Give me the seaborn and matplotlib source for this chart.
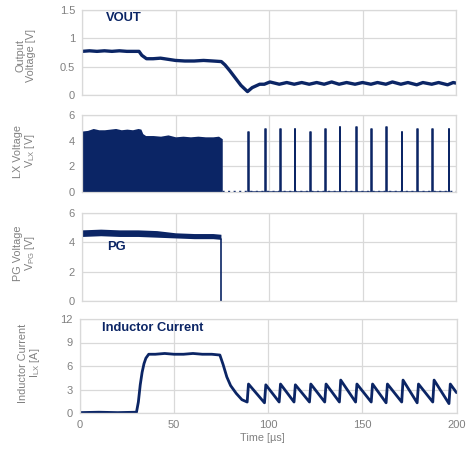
import matplotlib
matplotlib.use("Agg")
import matplotlib.pyplot as plt
import seaborn as sns

# ---------------- data ----------------
time_ticks = [0, 50, 100, 150, 200]

# switching events after the transient (µs)
sw_times = [88.8, 98.0, 105.8, 113.7, 121.9, 130.0, 137.8, 146.4, 154.7,
            162.6, 170.9, 179.1, 187.4, 196.0]

# Output voltage [V]
vout_t = [0, 4, 8, 12, 16, 20, 24, 28, 30.5, 32, 34.5, 38, 42, 46, 50, 55, 60, 65,
          70, 74.5, 76.5, 79, 82, 85, 88.5, 91, 95,
          97.5, 100.5, 105.5, 109.5, 113.5, 117.5, 121.5, 125.5, 129.5, 133.5,
          137.5, 141.5, 146, 150, 154.5, 158, 162.5, 166, 170.5, 174.3, 179,
          182.3, 187, 190.7, 195.5, 198.5, 200]
vout_v = [0.77, 0.78, 0.77, 0.78, 0.77, 0.78, 0.77, 0.77, 0.77, 0.70, 0.64, 0.64,
          0.65, 0.63, 0.61, 0.60, 0.60, 0.61, 0.60, 0.59, 0.53, 0.43, 0.30, 0.17,
          0.06, 0.13, 0.19,
          0.19, 0.23, 0.19, 0.22, 0.19, 0.22, 0.19, 0.22, 0.19, 0.23,
          0.19, 0.22, 0.19, 0.22, 0.19, 0.22, 0.19, 0.23, 0.19, 0.22, 0.18,
          0.22, 0.19, 0.22, 0.18, 0.22, 0.21]

# LX voltage [V]: envelope of the dense switching block, then isolated pulses
lx_block_t = [0, 3, 6, 9, 12, 15, 18, 21, 24, 27, 30, 31.5, 32.5, 34, 38, 42,
              46, 50, 54, 58, 62, 66, 70, 73, 75]
lx_block_v = [4.75, 4.8, 4.95, 4.85, 4.85, 4.9, 4.95, 4.85, 4.9, 4.85, 4.95,
              4.9, 4.55, 4.4, 4.4, 4.35, 4.45, 4.3, 4.35, 4.3, 4.35, 4.3, 4.3,
              4.35, 4.15]
lx_spike_v = [4.65, 4.88, 4.88, 4.88, 4.65, 4.88, 5.09, 5.09, 4.88, 5.09,
              4.65, 4.88, 4.88, 4.88]
lx_idle_v = 0.05

# PG voltage [V]: noisy band, drops at ~74 µs
pg_t = [0, 10, 20, 30, 40, 50, 60, 70, 74.3]
pg_upper = [4.85, 4.9, 4.85, 4.85, 4.8, 4.65, 4.6, 4.6, 4.55]
pg_lower = [4.4, 4.45, 4.4, 4.4, 4.35, 4.3, 4.25, 4.25, 4.2]
pg_drop_t = 74.3

# Inductor current [A]
ilx_t = [0, 10, 20, 30, 31, 32, 33, 34, 35, 36.5, 40, 45, 50, 55, 60, 65,
         70, 74.3, 76, 78, 80, 83, 86]
ilx_v = [0.05, 0.1, 0.05, 0.1, 1.4, 3.6, 5.2, 6.3, 7.0, 7.5, 7.5, 7.6, 7.5,
         7.5, 7.6, 7.5, 7.5, 7.4, 6.2, 4.6, 3.5, 2.5, 1.7]
ilx_trough = [1.4, 1.3, 1.4, 1.4, 1.4, 1.4, 1.4, 1.4, 1.4, 1.3, 1.4, 1.3, 1.4, 1.2]
ilx_peak = [3.7, 3.6, 3.7, 3.6, 3.7, 3.7, 4.2, 3.7, 3.7, 3.7, 4.2, 3.7, 4.2, 3.7]
ilx_end = 2.6

# ---------------- styling ----------------
sns.set_theme(style="white")
plt.rcParams["font.family"] = ["Liberation Sans", "DejaVu Sans"]
plt.rcParams["mathtext.fontset"] = "custom"
plt.rcParams["mathtext.rm"] = "Liberation Sans"
plt.rcParams["mathtext.it"] = "Liberation Sans"
plt.rcParams["mathtext.default"] = "regular"

NAVY = "#0b2565"
GRAY = "#808080"
GRID = "#d9d9d9"
W, H = 467, 450

fig = plt.figure(figsize=(W / 100, H / 100), dpi=100)


def add_ax(l, t, r, b):
    return fig.add_axes([l / W, 1 - b / H, (r - l) / W, (b - t) / H])


def style(ax, ylim, yticks, ylabels, show_x):
    ax.set_xlim(0, 200)
    ax.set_ylim(*ylim)
    ax.set_yticks(yticks)
    ax.set_yticklabels(ylabels)
    ax.set_xticks(time_ticks)
    if show_x:
        ax.set_xticklabels([str(t) for t in time_ticks])
    else:
        ax.set_xticklabels([])
    ax.grid(True, color=GRID, lw=0.9)
    ax.set_axisbelow(True)
    for s in ax.spines.values():
        s.set_color(GRID)
        s.set_linewidth(0.9)
    ax.tick_params(length=0, labelsize=8, colors=GRAY, pad=5)
    ax.set_xlabel("")
    ax.set_ylabel("")


# Panel 1: VOUT
ax1 = add_ax(82, 10, 456, 95)
sns.lineplot(x=vout_t, y=vout_v, ax=ax1, color=NAVY, lw=2.4,
             estimator=None, sort=False)
style(ax1, (0, 1.5), [0, 0.5, 1, 1.5], ["0", "0.5", "1", "1.5"], False)
ax1.text(0.064, 0.905, "VOUT", transform=ax1.transAxes, color=NAVY,
         fontsize=9.3, fontweight="bold", va="center", ha="left")

# Panel 2: LX
ax2 = add_ax(82, 115, 456, 192)
ax2.fill_between(lx_block_t, 0, lx_block_v, color=NAVY, lw=0)
sns.lineplot(x=[75, 200], y=[lx_idle_v, lx_idle_v], ax=ax2, color=NAVY,
             lw=1.0, estimator=None, sort=False, dashes=False,
             linestyle=(0, (1.5, 2.5)))
spk_x, spk_y = [], []
for s, v in zip(sw_times, lx_spike_v):
    spk_x += [s, s, s + 0.4, s + 0.4]
    spk_y += [0, v, v, 0]
sns.lineplot(x=spk_x, y=spk_y, ax=ax2, color=NAVY,
             lw=1.1, estimator=None, sort=False)
style(ax2, (0, 6), [0, 2, 4, 6], ["0", "2", "4", "6"], False)

# Panel 3: PG
ax3 = add_ax(82, 213, 456, 301)
ax3.fill_between(pg_t, pg_lower, pg_upper, color=NAVY, lw=0)
sns.lineplot(x=[pg_drop_t, pg_drop_t], y=[pg_lower[-1], 0], ax=ax3,
             color=NAVY, lw=1.2, estimator=None, sort=False)
style(ax3, (0, 6), [0, 2, 4, 6], ["0", "2", "4", "6"], False)
ax3.text(0.067, 0.617, "PG", transform=ax3.transAxes, color=NAVY,
         fontsize=9.3, fontweight="bold", va="center", ha="left")

# Panel 4: inductor current
ax4 = add_ax(80, 319, 456.5, 413)
cur_t = list(ilx_t)
cur_v = list(ilx_v)
for s, lo, hi in zip(sw_times, ilx_trough, ilx_peak):
    cur_t += [s, s + 0.7]
    cur_v += [lo, hi]
cur_t.append(200)
cur_v.append(ilx_end)
sns.lineplot(x=cur_t, y=cur_v, ax=ax4, color=NAVY, lw=2.0,
             estimator=None, sort=False)
style(ax4, (0, 12), [0, 3, 6, 9, 12], ["0", "3", "6", "9", "12"], True)
ax4.text(0.058, 0.907, "Inductor Current", transform=ax4.transAxes,
         color=NAVY, fontsize=9.3, fontweight="bold", va="center", ha="left")

# y labels and x label
lab_kw = dict(rotation=90, ha="center", va="center", ma="center",
              color=GRAY, fontsize=7.8, linespacing=1.05)
fig.text(26 / W, 1 - 55 / H, "Output\nVoltage [V]", **lab_kw)
fig.text(25 / W, 1 - 151 / H, "LX Voltage\nV$_{LX}$ [V]", **lab_kw)
fig.text(25 / W, 1 - 253 / H, "PG Voltage\nV$_{PG}$ [V]", **lab_kw)
fig.text(30 / W, 1 - 363 / H, "Inductor Current\nI$_{LX}$ [A]", **lab_kw)
fig.text(262 / W, 1 - 438 / H, "Time [µs]", ha="center", va="center",
         color=GRAY, fontsize=7.8)

fig.savefig("out.png", dpi=100)
